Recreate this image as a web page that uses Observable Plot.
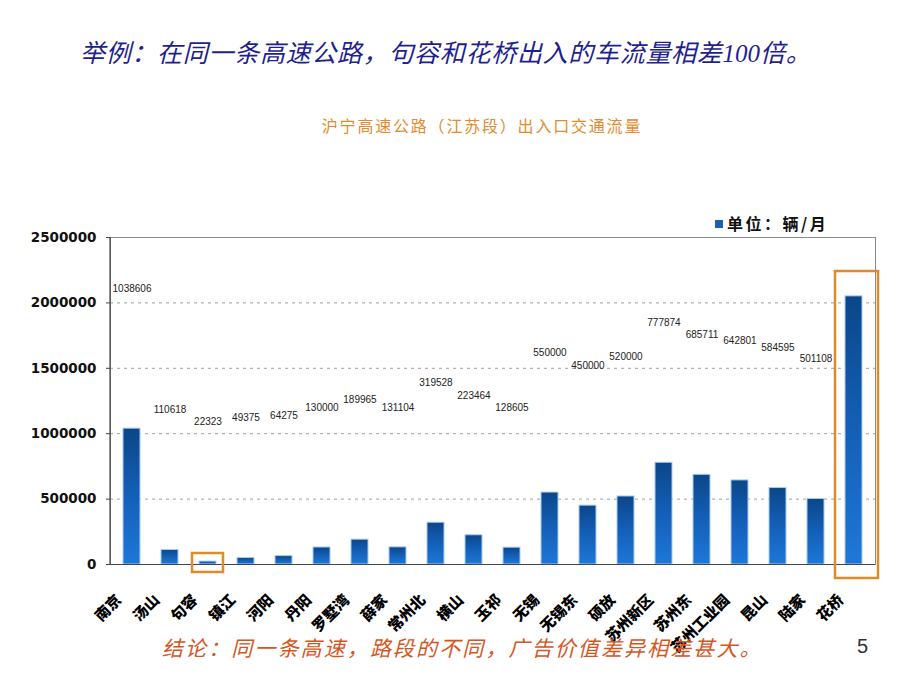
<!DOCTYPE html>
<html>
<head>
<meta charset="utf-8">
<script src="https://cdn.jsdelivr.net/npm/d3@7"></script>
<script src="https://cdn.jsdelivr.net/npm/@observablehq/plot@0.6"></script>
<style>
  html, body { margin: 0; padding: 0; background: #fff; }
  #page { position: relative; width: 920px; height: 690px; overflow: hidden; }
  #chart { position: absolute; left: 0; top: 0; }
  .abs { position: absolute; white-space: nowrap; }
  #title { left: 80px; top: 33px; font: italic 25px "Noto Sans CJK SC", sans-serif; color: #1f1f8f; letter-spacing: 0.7px; }
  #title .num { font-family: "Liberation Serif", serif; letter-spacing: 0; }
  #subtitle { left: 0; width: 964px; text-align: center; top: 113px; font: 16px "Noto Sans CJK SC", sans-serif; color: #e38b2c; letter-spacing: 1.8px; }
  #legend { left: 715px; top: 211px; font: bold 16px "Noto Sans CJK SC", sans-serif; color: #111; letter-spacing: 2.5px; }
  #legend .sw { display: inline-block; width: 8px; height: 8px; background: #1a5fb8; margin-right: 4px; vertical-align: 2px; }
  #conclusion { left: 162px; top: 632px; font: italic 21px "Noto Sans CJK SC", sans-serif; color: #d4561e; letter-spacing: 2.1px; }
  #pagenum { left: 857px; top: 635px; font: 20px "Liberation Sans", Arial, sans-serif; color: #333; }
</style>
</head>
<body>
<div id="page">
  <div id="chart"></div>
  <div id="title" class="abs">举例：在同一条高速公路，句容和花桥出入的车流量相差<span class="num">100</span>倍。</div>
  <div id="subtitle" class="abs">沪宁高速公路（江苏段）出入口交通流量</div>
  <div id="legend" class="abs"><span class="sw"></span>单位：辆/月</div>
  <div id="conclusion" class="abs">结论：同一条高速，路段的不同，广告价值差异相差甚大。</div>
  <div id="pagenum" class="abs">5</div>
</div>
<script>
const categories = ["南京","汤山","句容","镇江","河阳","丹阳","罗墅湾","薛家","常州北","横山","玉祁","无锡","无锡东","硕放","苏州新区","苏州东","苏州工业园","昆山","陆家","花桥"];
const values = [1038606,110618,22323,49375,64275,130000,189965,131104,319528,223464,128605,550000,450000,520000,777874,685711,642801,584595,501108,2050000];
const dataLabels = ["1038606","110618","22323","49375","64275","130000","189965","131104","319528","223464","128605","550000","450000","520000","777874","685711","642801","584595","501108",""];
const yTicks = [0,500000,1000000,1500000,2000000,2500000];
const gridValues = [500000,1000000,1500000,2000000];
const highlighted = ["句容","花桥"];

const rows = categories.map((c, i) => ({station: c, value: values[i], label: dataLabels[i]}));
const labelLift = 1070000;

const svg = Plot.plot({
  width: 920,
  height: 690,
  marginLeft: 110,
  marginRight: 45,
  marginTop: 237,
  marginBottom: 126,
  style: {background: "transparent", overflow: "visible"},
  x: {domain: categories, paddingInner: 0.55, paddingOuter: 0.275, axis: null},
  y: {domain: [0, 2500000], axis: null},
  marks: [
    Plot.ruleY(gridValues, {stroke: "#a0a0a0", strokeDasharray: "3,4", strokeWidth: 1}),
    Plot.frame({stroke: "#8a8a8a", strokeWidth: 1}),
    Plot.barY(rows, {x: "station", y: "value", fill: "url(#barGrad)", stroke: "#a9cbef", strokeWidth: 1}),
    Plot.ruleY([0], {stroke: "#444", strokeWidth: 1.2}),
    Plot.axisY({ticks: yTicks, tickFormat: d => String(d), tickSize: 4, tickPadding: 10, stroke: "#444",
      fontSize: 13.5, fontWeight: "bold", fill: "#111", fontFamily: "DejaVu Sans, sans-serif", label: null}),
    Plot.text(rows.filter(d => d.label !== ""), {x: "station", y: d => d.value + labelLift, text: "label",
      fontSize: 10, fill: "#222", fontFamily: "Liberation Sans, Arial, sans-serif"}),
    Plot.text(categories, {x: d => d, y: () => 0, text: d => d, rotate: -45, textAnchor: "end", lineAnchor: "middle",
      dx: -13, dy: 33, fontSize: 15, fontWeight: 900, fill: "#000", fontFamily: "Noto Sans CJK SC, sans-serif"}),
    Plot.barY([highlighted[0]], {x: d => d, y1: () => -61000, y2: () => 84000, insetLeft: -7, insetRight: -7,
      fill: "none", stroke: "#e08a2a", strokeWidth: 2.5}),
    Plot.barY([highlighted[1]], {x: d => d, y1: () => -107000, y2: () => 2240000, insetLeft: -10, insetRight: -16,
      fill: "none", stroke: "#e08a2a", strokeWidth: 2.5})
  ]
});

svg.insertAdjacentHTML("afterbegin",
  `<defs><linearGradient id="barGrad" x1="0" y1="0" x2="0" y2="1">
     <stop offset="0%" stop-color="#0b4688"/>
     <stop offset="45%" stop-color="#135db4"/>
     <stop offset="100%" stop-color="#1e77d8"/>
   </linearGradient></defs>`);
// left axis line
const ns = "http://www.w3.org/2000/svg";
const line = document.createElementNS(ns, "line");
line.setAttribute("x1", 110); line.setAttribute("x2", 110);
line.setAttribute("y1", 237); line.setAttribute("y2", 564);
line.setAttribute("stroke", "#444"); line.setAttribute("stroke-width", 1.2);
svg.appendChild(line);
document.getElementById("chart").appendChild(svg);
</script>
</body>
</html>
